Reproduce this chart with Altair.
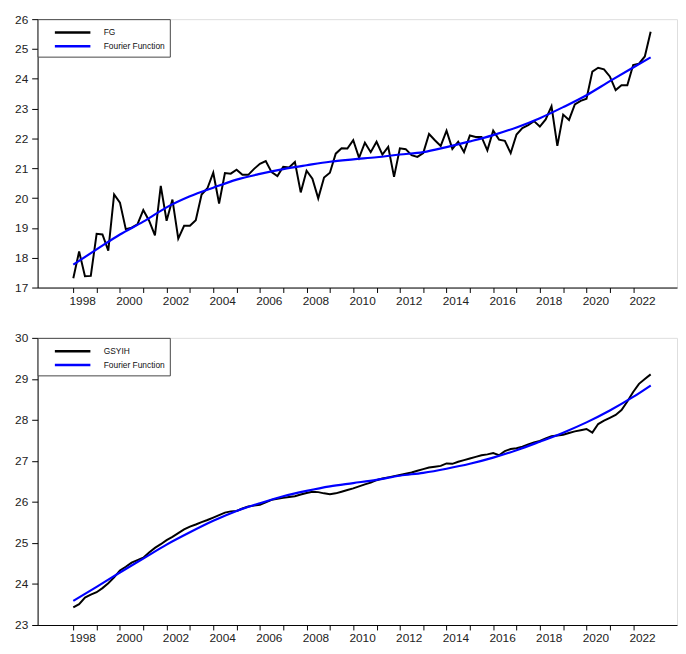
import altair as alt
import pandas as pd

START_YEAR = 1998

# Quarterly observations, 1998Q1 .. 2022Q4
fg = [17.31, 18.21, 17.38, 17.39, 18.80, 18.78, 18.24, 20.12, 19.85, 18.96,
      19.01, 19.12, 19.60, 19.24, 18.75, 20.41, 19.24, 19.95, 18.64, 19.07,
      19.07, 19.26, 20.12, 20.33, 20.85, 19.82, 20.84, 20.82, 20.95, 20.78,
      20.78, 20.98, 21.15, 21.24, 20.87, 20.74, 21.05, 21.03, 21.21, 20.19,
      20.92, 20.65, 19.99, 20.69, 20.85, 21.49, 21.67, 21.66, 21.94, 21.35,
      21.86, 21.54, 21.89, 21.46, 21.72, 20.71, 21.67, 21.64, 21.44, 21.38,
      21.51, 22.15, 21.94, 21.75, 22.26, 21.65, 21.89, 21.54, 22.10, 22.05,
      22.05, 21.60, 22.26, 21.96, 21.92, 21.51, 22.13, 22.35, 22.45, 22.58,
      22.40, 22.64, 23.08, 21.75, 22.80, 22.62, 23.14, 23.26, 23.33, 24.24,
      24.37, 24.32, 24.08, 23.62, 23.78, 23.78, 24.46, 24.51, 24.75, 25.58]

gsyih = [23.43, 23.51, 23.67, 23.74, 23.80, 23.90, 24.02, 24.16, 24.33, 24.42,
         24.52, 24.58, 24.64, 24.77, 24.88, 24.97, 25.07, 25.15, 25.24, 25.33,
         25.40, 25.45, 25.51, 25.56, 25.62, 25.68, 25.74, 25.77, 25.78, 25.84,
         25.89, 25.91, 25.93, 25.99, 26.05, 26.08, 26.10, 26.12, 26.14, 26.18,
         26.22, 26.25, 26.24, 26.21, 26.19, 26.21, 26.25, 26.29, 26.33, 26.38,
         26.43, 26.47, 26.53, 26.57, 26.60, 26.63, 26.66, 26.69, 26.72, 26.76,
         26.80, 26.84, 26.86, 26.88, 26.94, 26.93, 26.98, 27.02, 27.06, 27.10,
         27.14, 27.16, 27.19, 27.14, 27.24, 27.29, 27.31, 27.35, 27.40, 27.45,
         27.49, 27.55, 27.60, 27.62, 27.64, 27.68, 27.72, 27.75, 27.78, 27.69,
         27.90, 27.98, 28.05, 28.12, 28.24, 28.45, 28.68, 28.88, 29.00, 29.11]

# Fourier function read at the start of each year (and at the last quarter)
fourier_t = [1998, 1999, 2000, 2001, 2002, 2003, 2004, 2005, 2006, 2007, 2008,
             2009, 2010, 2011, 2012, 2013, 2014, 2015, 2016, 2017, 2018, 2019,
             2020, 2021, 2022, 2022.75]
fourier_fg = [17.77, 18.28, 18.78, 19.21, 19.69, 20.06, 20.35, 20.62, 20.81,
              20.97, 21.10, 21.22, 21.30, 21.37, 21.46, 21.54, 21.71, 21.90,
              22.11, 22.37, 22.68, 23.05, 23.45, 23.92, 24.38, 24.72]
fourier_gsyih = [23.59, 23.93, 24.28, 24.62, 24.96, 25.26, 25.54, 25.78, 25.97,
                 26.14, 26.27, 26.38, 26.46, 26.54, 26.64, 26.71, 26.81, 26.93,
                 27.08, 27.26, 27.47, 27.69, 27.94, 28.23, 28.56, 28.84]

year_ticks = list(range(1998, 2023))
FONT = "Liberation Sans"
FOURIER = "Fourier Function"


def panel(actual, name, fourier, y_lo, y_hi, height):
    t = [START_YEAR + i / 4 for i in range(len(actual))]
    df_a = pd.DataFrame({"t": t, "v": actual, "series": name})
    df_f = pd.DataFrame({"t": fourier_t, "v": fourier, "series": FOURIER})

    x = alt.X("t:Q", scale=alt.Scale(domain=[1996.47, 2023.88], nice=False, zero=False),
              axis=alt.Axis(values=year_ticks, format="d",
                            labelExpr="datum.value % 2 == 0 ? datum.label : ''",
                            title=None, grid=False, tickSize=5, labelPadding=3,
                            labelOffset=9, labelFontSize=12, labelFont=FONT,
                            labelColor="#222", domainColor="#000", tickColor="#000"))
    y = alt.Y("v:Q", scale=alt.Scale(domain=[y_lo, y_hi], nice=False, zero=False),
              axis=alt.Axis(values=list(range(y_lo, y_hi + 1)), title=None, grid=False,
                            tickSize=6, labelPadding=4, labelFontSize=12,
                            labelFont=FONT, labelColor="#222",
                            domainColor="#000", tickColor="#000"))
    color = alt.Color("series:N",
                      scale=alt.Scale(domain=[name, FOURIER], range=["#000000", "#0000ff"]),
                      legend=alt.Legend(title=None, orient="top-left", offset=0,
                                        strokeColor="#444", fillColor="white",
                                        padding=5, labelFontSize=8.5, labelFont=FONT,
                                        labelColor="#111",
                                        symbolType="M0.571,0L5.714,0",
                                        symbolStrokeWidth=2.5, symbolSize=196,
                                        labelOffset=45, rowPadding=0))
    la = alt.Chart(df_a).mark_line(strokeWidth=2).encode(x=x, y=y, color=color)
    lf = alt.Chart(df_f).mark_line(strokeWidth=2.2, interpolate="monotone").encode(
        x=x, y=y, color=color)
    return alt.layer(la, lf).properties(width=648, height=height)


top = panel(fg, "FG", fourier_fg, 17, 26, 272)
bottom = panel(gsyih, "GSYIH", fourier_gsyih, 23, 30, 291)

chart = alt.vconcat(top, bottom, spacing=24).resolve_scale(
    color="independent"
).properties(
    padding={"left": 6, "top": 0, "right": 0, "bottom": 0}
).configure_view(stroke="#333", strokeWidth=1).configure(background="white")

chart.save("out.html", embed_options={"renderer": "svg", "actions": False})
